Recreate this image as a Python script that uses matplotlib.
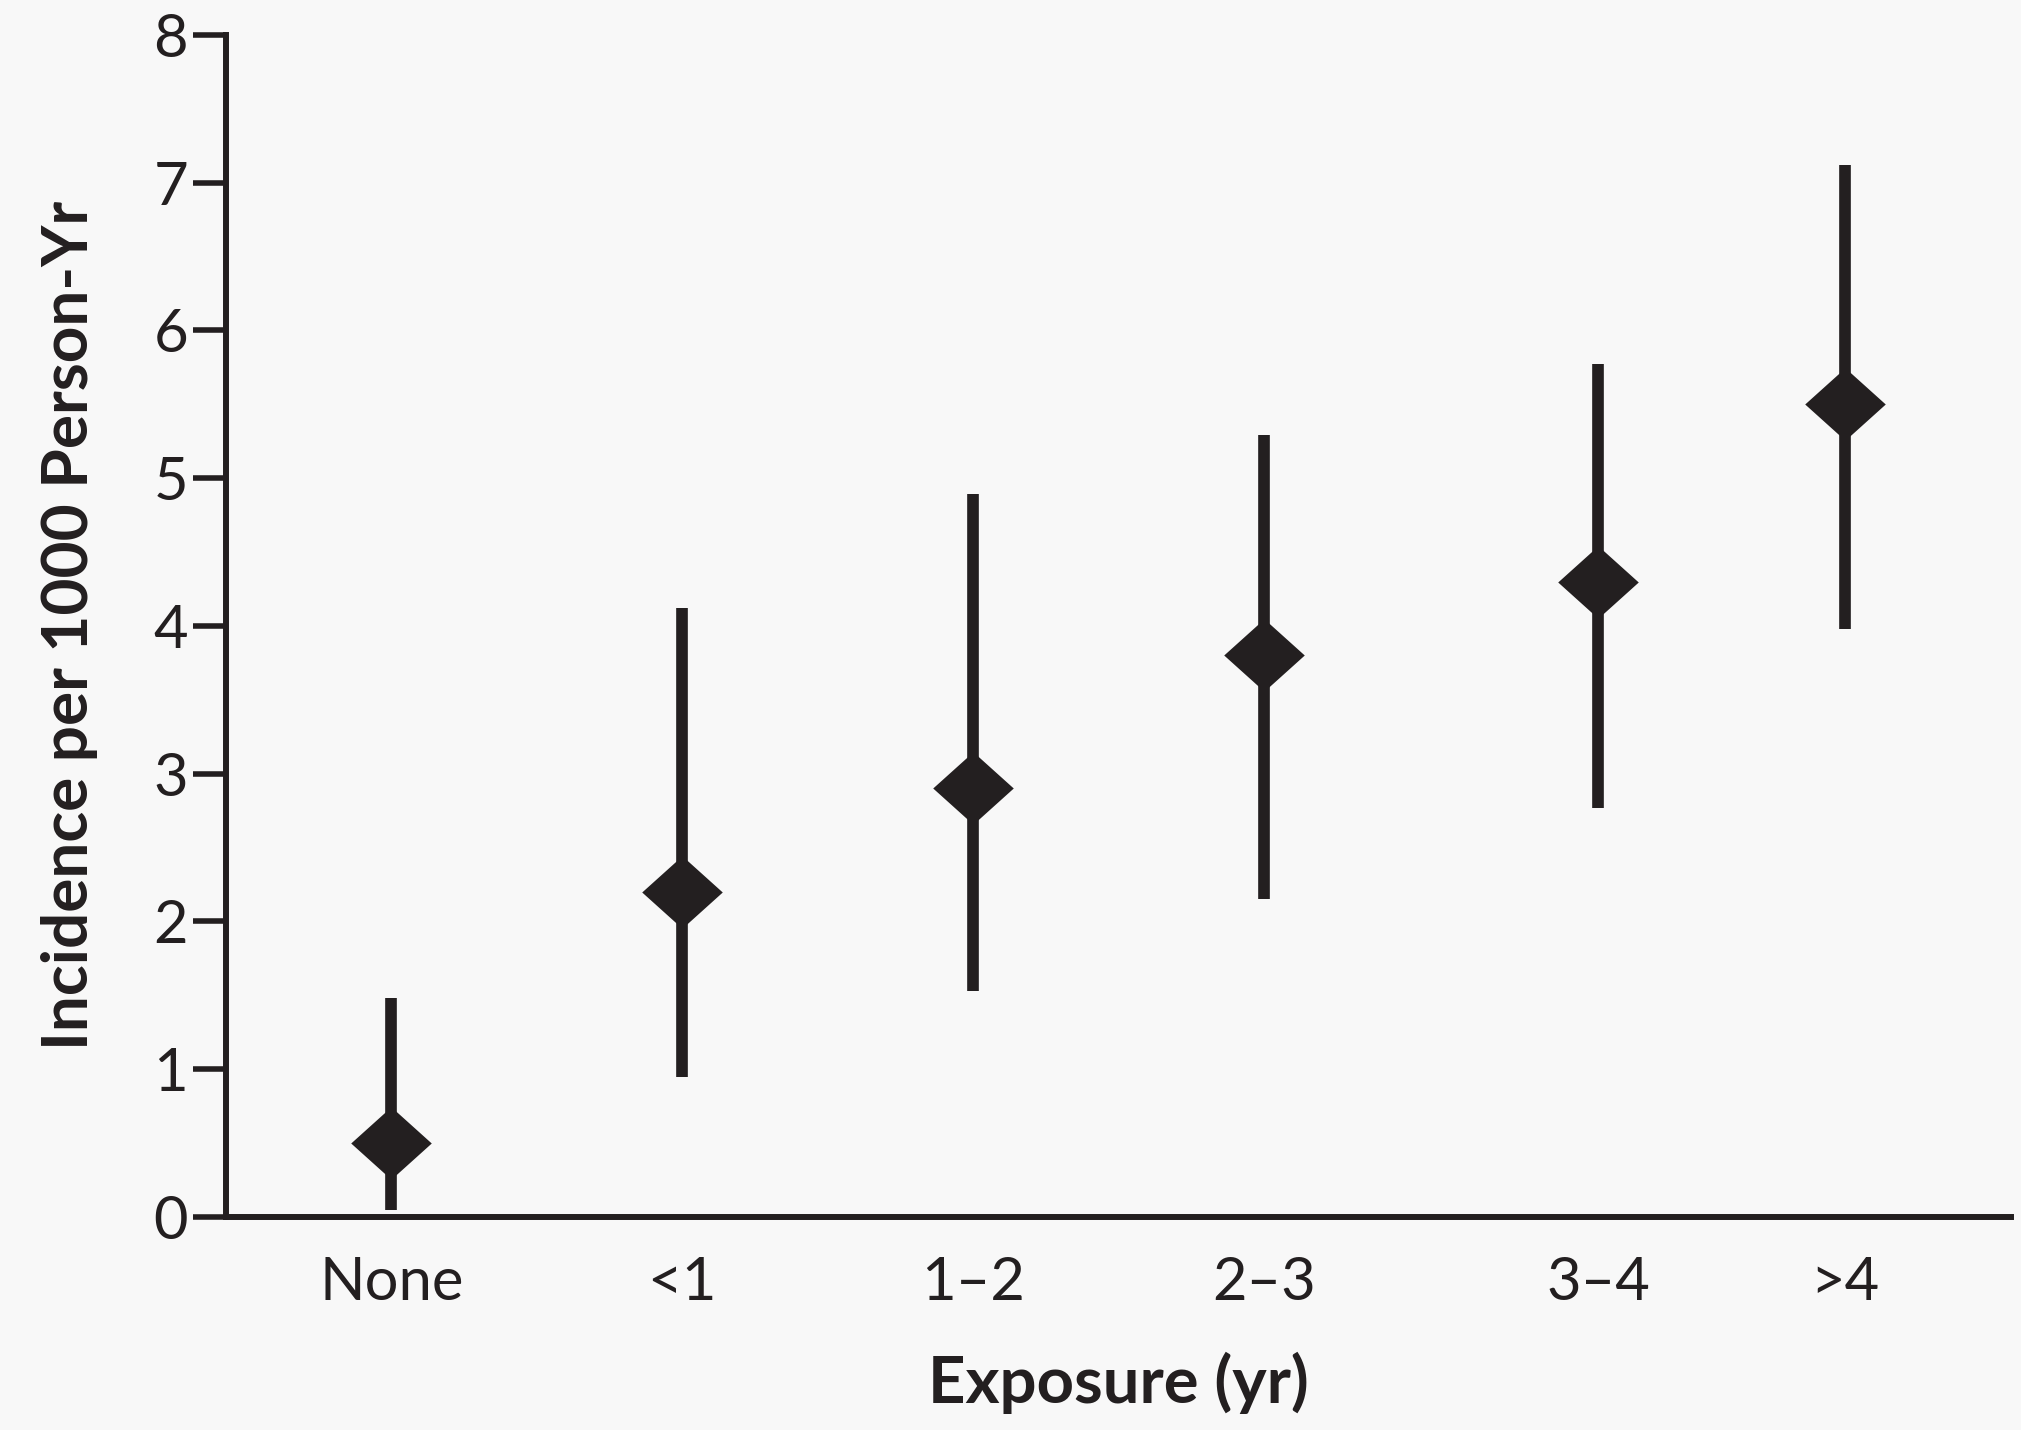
import matplotlib
matplotlib.use("Agg")
import matplotlib.pyplot as plt
from matplotlib.path import Path
import numpy as np

categories = ["None", "<1", "1\u20132", "2\u20133", "3\u20134", ">4"]
x_positions = [1.0, 2.0, 3.0, 4.0, 5.15, 6.0]
incidence = [0.5, 2.2, 2.9, 3.8, 4.3, 5.5]
ci_low = [0.05, 0.95, 1.53, 2.15, 2.77, 3.98]
ci_high = [1.48, 4.12, 4.89, 5.29, 5.77, 7.12]
y_ticks = [0, 1, 2, 3, 4, 5, 6, 7, 8]

INK = "#231f20"
BG = "#f8f8f8"

plt.rcParams['font.family'] = ['Lato', 'DejaVu Sans']

fig = plt.figure(figsize=(20.21, 14.30), dpi=100, facecolor=BG)
ax = fig.add_axes([0.1117, 0.149, 0.8833, 0.8267], facecolor=BG)

diamond = Path([(-1.0, 0.0), (0.0, 0.9), (1.0, 0.0), (0.0, -0.9), (-1.0, 0.0)],
               [Path.MOVETO, Path.LINETO, Path.LINETO, Path.LINETO, Path.CLOSEPOLY])

ax.vlines(x_positions, ci_low, ci_high, colors=INK, linewidth=8.4, zorder=2)
ax.plot(x_positions, incidence, linestyle='none', marker=diamond, markersize=58,
        color=INK, markeredgewidth=0, zorder=3)

ax.set_xlim(0.43, 6.57)
ax.set_ylim(0, 8)
ax.set_yticks(y_ticks)
ax.set_yticklabels([str(t) for t in y_ticks])
ax.set_xticks(x_positions)
ax.set_xticklabels(categories)

for s in ['top', 'right']:
    ax.spines[s].set_visible(False)
for s in ['left', 'bottom']:
    ax.spines[s].set_linewidth(4.3)
    ax.spines[s].set_color(INK)
    ax.spines[s].set_capstyle('projecting')

ax.tick_params(axis='y', direction='out', length=24, width=4, color=INK,
               labelsize=43, labelcolor=INK, pad=3)
ax.tick_params(axis='x', length=0, labelsize=43, labelcolor=INK, pad=28)

ax.set_ylabel("Incidence per 1000 Person-Yr", fontsize=46, fontweight='bold',
              color=INK, labelpad=40)
ax.set_xlabel("Exposure (yr)", fontsize=47, fontweight='bold', color=INK, labelpad=30)

fig.savefig("out.png", dpi=100, facecolor=BG)
